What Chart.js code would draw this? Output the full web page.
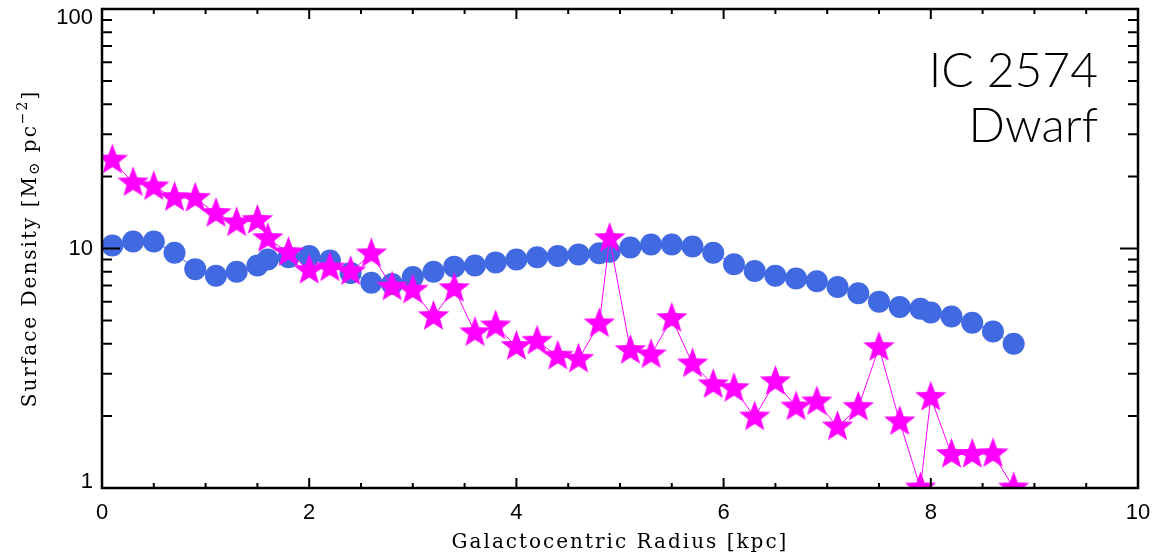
<!DOCTYPE html>
<html>
<head>
<meta charset="utf-8">
<title>IC 2574 surface density</title>
<script src="https://cdn.jsdelivr.net/npm/chart.js@4.4.0/dist/chart.umd.min.js"></script>
<style>
  html, body { margin: 0; padding: 0; background: #fff; }
  canvas { display: block; }
</style>
</head>
<body>
<canvas id="profile" width="1154" height="557"></canvas>
<script>
// radii of the annuli (kpc), shared by both profiles
var radius = [0.1, 0.3, 0.5, 0.7, 0.9, 1.1, 1.3, 1.5, 1.6, 1.8, 2.0, 2.2, 2.4, 2.6, 2.8, 3.0,
              3.2, 3.4, 3.6, 3.8, 4.0, 4.2, 4.4, 4.6, 4.8, 4.9, 5.1, 5.3, 5.5, 5.7, 5.9, 6.1,
              6.3, 6.5, 6.7, 6.9, 7.1, 7.3, 7.5, 7.7, 7.9, 8.0, 8.2, 8.4, 8.6, 8.8];

// atomic gas surface density (Msun/pc^2), blue circles
var gasDensity = [10.3, 10.7, 10.7, 9.6, 8.2, 7.7, 8.0, 8.5, 9.0, 9.2, 9.3, 8.9, 7.9, 7.2, 7.1, 7.6,
                  8.0, 8.4, 8.5, 8.75, 9.0, 9.2, 9.3, 9.45, 9.55, 9.7, 10.1, 10.4, 10.4, 10.2, 9.6, 8.6,
                  8.05, 7.7, 7.5, 7.3, 6.9, 6.5, 6.0, 5.7, 5.6, 5.4, 5.2, 4.9, 4.5, 4.0];

// stellar surface density (Msun/pc^2), magenta stars
var starDensity = [23.4, 18.8, 18.1, 16.3, 16.2, 14.0, 12.8, 13.1, 11.0, 9.6, 8.1, 8.3, 8.0, 9.5, 6.9, 6.7,
                   5.2, 6.8, 4.45, 4.75, 3.9, 4.1, 3.55, 3.45, 4.85, 11.0, 3.75, 3.6, 5.1, 3.3, 2.7, 2.6,
                   1.98, 2.78, 2.18, 2.29, 1.8, 2.17, 3.86, 1.89, 1.0, 2.39, 1.38, 1.38, 1.39, 1.0];

var xTickValues = [0, 2, 4, 6, 8, 10];
var xTickLabels = ['0', '2', '4', '6', '8', '10'];
var yTickValues = [1, 10, 100];
var yTickLabels = ['1', '10', '100'];

var galaxyName = 'IC 2574';
var galaxyType = 'Dwarf';

function toPoints(xs, ys) {
    var pts = [];
    for (var i = 0; i < xs.length; i++) {
        pts.push({ x: xs[i], y: ys[i] });
    }
    return pts;
}

// filled five-pointed star used as the point marker
function makeStar(outer, color) {
    var c = document.createElement('canvas');
    var size = Math.ceil(outer * 2 + 2);
    c.width = size;
    c.height = size;
    var g = c.getContext('2d');
    var inner = outer * 0.42;
    g.translate(size / 2, size / 2);
    g.beginPath();
    for (var i = 0; i < 10; i++) {
        var r = (i % 2 === 0) ? outer : inner;
        var ang = -Math.PI / 2 + i * Math.PI / 5;
        var px = r * Math.cos(ang), py = r * Math.sin(ang);
        if (i === 0) g.moveTo(px, py); else g.lineTo(px, py);
    }
    g.closePath();
    g.fillStyle = color;
    g.fill();
    return c;
}

var starMarker = makeStar(16.5, '#ff00ff');

// box, inward ticks, tick labels, axis titles and the galaxy label
var framePlugin = {
    id: 'frame',
    afterDraw: function(chart) {
        var ctx = chart.ctx;
        var a = chart.chartArea;
        var xs = chart.scales.x;
        var ys = chart.scales.y;
        ctx.save();
        ctx.strokeStyle = '#000';
        ctx.lineWidth = 2;
        ctx.beginPath();
        for (var v = 0; v <= 10.001; v += 0.5) {
            var px = xs.getPixelForValue(v);
            var len = (Math.abs(v % 2) < 1e-6) ? 10 : 5;
            ctx.moveTo(px, a.bottom); ctx.lineTo(px, a.bottom - len);
            ctx.moveTo(px, a.top); ctx.lineTo(px, a.top + len);
        }
        for (var d = 1; d < 100; d *= 10) {
            for (var k = 1; k <= 9; k++) {
                var py = ys.getPixelForValue(k * d);
                var ylen = (k === 1) ? 18 : 10;
                ctx.moveTo(a.left, py); ctx.lineTo(a.left + ylen, py);
                ctx.moveTo(a.right, py); ctx.lineTo(a.right - ylen, py);
            }
        }
        ctx.stroke();

        ctx.lineWidth = 2.5;
        ctx.strokeRect(a.left, a.top, a.right - a.left, a.bottom - a.top);

        // tick labels
        ctx.fillStyle = '#000';
        ctx.font = '22px "Liberation Sans", Arial, sans-serif';
        ctx.textAlign = 'center';
        ctx.textBaseline = 'middle';
        xTickValues.forEach(function(v, i) {
            ctx.fillText(xTickLabels[i], xs.getPixelForValue(v), a.bottom + 25);
        });
        ctx.textAlign = 'right';
        var half = 8;
        yTickValues.forEach(function(v, i) {
            var py = ys.getPixelForValue(v);
            py = Math.min(Math.max(py, a.top + half + 1), a.bottom - half + 2);
            ctx.fillText(yTickLabels[i], a.left - 9, py);
        });

        // axis titles
        ctx.font = '20px "DejaVu Serif", serif';
        ctx.letterSpacing = '2px';
        ctx.textAlign = 'center';
        ctx.textBaseline = 'alphabetic';
        ctx.fillText('Galactocentric Radius [kpc]', (a.left + a.right) / 2, 548);

        // y title with sun symbol subscript and exponent
        var parts = [
            { t: 'Surface Density [M', size: 20, dy: 0 },
            { t: '\u2299', size: 15, dy: 3 },
            { t: ' pc', size: 20, dy: 0 },
            { t: '\u22122', size: 14, dy: -9 },
            { t: ']', size: 20, dy: 0 }
        ];
        var total = 0;
        parts.forEach(function(p) {
            ctx.font = p.size + 'px "DejaVu Serif", serif';
            p.w = ctx.measureText(p.t).width;
            total += p.w;
        });
        ctx.translate(36, (a.top + a.bottom) / 2);
        ctx.rotate(-Math.PI / 2);
        ctx.textAlign = 'left';
        var cx = -total / 2;
        parts.forEach(function(p) {
            ctx.font = p.size + 'px "DejaVu Serif", serif';
            ctx.fillText(p.t, cx, p.dy);
            cx += p.w;
        });
        ctx.restore();

        ctx.save();
        ctx.fillStyle = '#000';
        ctx.font = '300 48px Lato, "Open Sans", sans-serif';
        ctx.textAlign = 'right';
        ctx.textBaseline = 'alphabetic';
        ctx.fillText(galaxyName, 1098, 87);
        ctx.fillText(galaxyType, 1098, 142);
        ctx.restore();
    }
};

var chart = new Chart(document.getElementById('profile').getContext('2d'), {
    type: 'scatter',
    data: {
        datasets: [{
            label: 'Stars',
            data: toPoints(radius, starDensity),
            showLine: true,
            borderColor: '#ff00ff',
            borderWidth: 1,
            pointStyle: starMarker,
            pointRadius: 16,
            clip: 0,
            order: 1
        }, {
            label: 'Gas',
            data: toPoints(radius, gasDensity),
            showLine: true,
            borderColor: '#4169e1',
            borderWidth: 1,
            backgroundColor: '#4169e1',
            pointBackgroundColor: '#4169e1',
            pointBorderWidth: 0,
            pointRadius: 11,
            clip: 0,
            order: 2
        }]
    },
    options: {
        responsive: false,
        animation: false,
        events: [],
        layout: { autoPadding: false, padding: { left: 102, right: 16, top: 9, bottom: 69 } },
        plugins: {
            legend: { display: false },
            tooltip: { enabled: false }
        },
        scales: {
            x: { type: 'linear', min: 0, max: 10, display: false },
            y: { type: 'logarithmic', min: 1, max: 100, display: false }
        }
    },
    plugins: [framePlugin]
});
</script>
</body>
</html>
